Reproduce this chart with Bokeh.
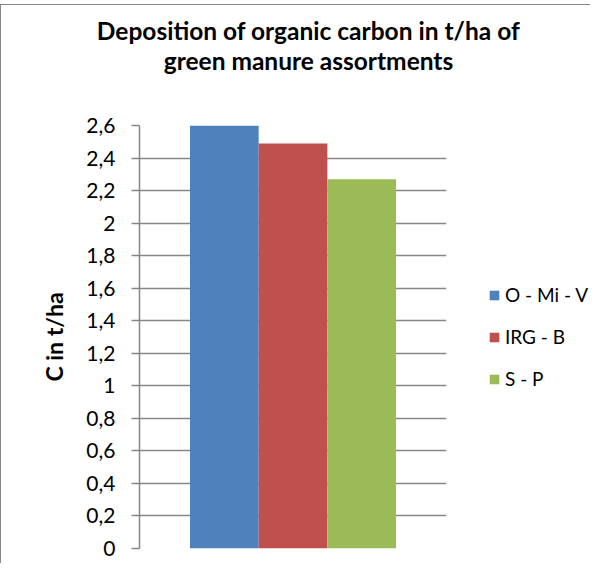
from bokeh.plotting import figure
from bokeh.layouts import row, column
from bokeh.models import ColumnDataSource, FixedTicker, FactorRange, Range1d, Label
from bokeh.embed import file_html
from bokeh.resources import INLINE

# ---- data ----
series = ["O - Mi - V", "IRG - B", "S - P"]
carbon = [2.60, 2.49, 2.27]
colors = ["#4F81BD", "#C0504D", "#9BBB59"]
y_tick_values = [0, 0.2, 0.4, 0.6, 0.8, 1, 1.2, 1.4, 1.6, 1.8, 2, 2.2, 2.4, 2.6]
y_tick_labels = ["0", "0,2", "0,4", "0,6", "0,8", "1", "1,2", "1,4", "1,6", "1,8", "2", "2,2", "2,4", "2,6"]
title_lines = ["Deposition of organic carbon in t/ha of", "green manure assortments"]
y_label = "C in t/ha"

FONT = "Lato"
GRAY = "#868686"

src = ColumnDataSource(dict(series=series, value=carbon, color=colors))

# ---- title strip ----
TW, TH = 589, 96
t = figure(width=TW, height=TH, x_range=Range1d(0, TW), y_range=Range1d(0, TH),
           output_backend="svg", toolbar_location=None,
           min_border_left=0, min_border_right=0, min_border_top=0, min_border_bottom=0)
t.axis.visible = False
t.grid.visible = False
t.outline_line_color = None
for line, ty in zip(title_lines, [71, 41]):
    t.add_layout(Label(x=307, y=ty, text=line, text_align="center", text_baseline="alphabetic",
                       text_font=FONT, text_font_size="24.5px", text_font_style="bold",
                       text_color="black"))

# ---- main chart ----
PH = 462
p = figure(
    width=447, height=PH,
    x_range=FactorRange(factors=series, range_padding=0.735, range_padding_units="absolute"),
    y_range=Range1d(0, 2.6),
    output_backend="svg", toolbar_location=None,
    min_border_left=138, min_border_right=2, min_border_top=24, min_border_bottom=15,
)

p.vbar(x="series", top="value", width=1.0, color="color", line_color=None, source=src)

p.xaxis.visible = False
yax = p.yaxis[0]
yax.ticker = FixedTicker(ticks=y_tick_values)
yax.major_label_overrides = dict(zip(y_tick_values, y_tick_labels))
yax.axis_line_color = GRAY
yax.axis_line_width = 1.5
yax.major_tick_line_color = GRAY
yax.major_tick_line_width = 1.5
yax.major_tick_out = 8
yax.major_tick_in = 0
yax.minor_tick_line_color = None
yax.major_label_standoff = 16
yax.major_label_text_font = FONT
yax.major_label_text_font_size = "21px"
yax.major_label_text_color = "black"
yax.axis_label = y_label
yax.axis_label_text_font = FONT
yax.axis_label_text_font_size = "23px"
yax.axis_label_text_font_style = "bold"
yax.axis_label_text_color = "black"
yax.axis_label_standoff = 15

p.xgrid.grid_line_color = None
p.ygrid.grid_line_color = GRAY
p.ygrid.grid_line_width = 1.5
p.ygrid.ticker = FixedTicker(ticks=y_tick_values)
p.outline_line_color = None

# ---- legend panel (zero-width bars outside its y-range; only the legend shows) ----
q = figure(
    width=142, height=PH, x_range=FactorRange(factors=series), y_range=Range1d(50, 51),
    output_backend="svg", toolbar_location=None,
    min_border_left=0, min_border_right=0, min_border_top=0, min_border_bottom=0,
)
q.axis.visible = False
q.grid.visible = False
q.outline_line_color = None
q.vbar(x="series", top="value", width=0.0, fill_color="color", line_color=None,
       legend_field="series", source=src)

lg = q.legend[0]
lg.location = (40, 158)
lg.orientation = "vertical"
lg.padding = 0
lg.margin = 0
lg.border_line_color = None
lg.background_fill_alpha = 0
lg.glyph_width = 12
lg.glyph_height = 12
lg.label_height = 23
lg.spacing = 19
lg.label_standoff = 5
lg.label_text_font = FONT
lg.label_text_font_size = "19px"
lg.label_text_color = "black"

layout = column(t, row(p, q),
                styles={"border-left": "1px solid #868686", "border-top": "1px solid #868686",
                        "margin-top": "4px"})

open("out.html", "w").write(file_html(layout, INLINE))
